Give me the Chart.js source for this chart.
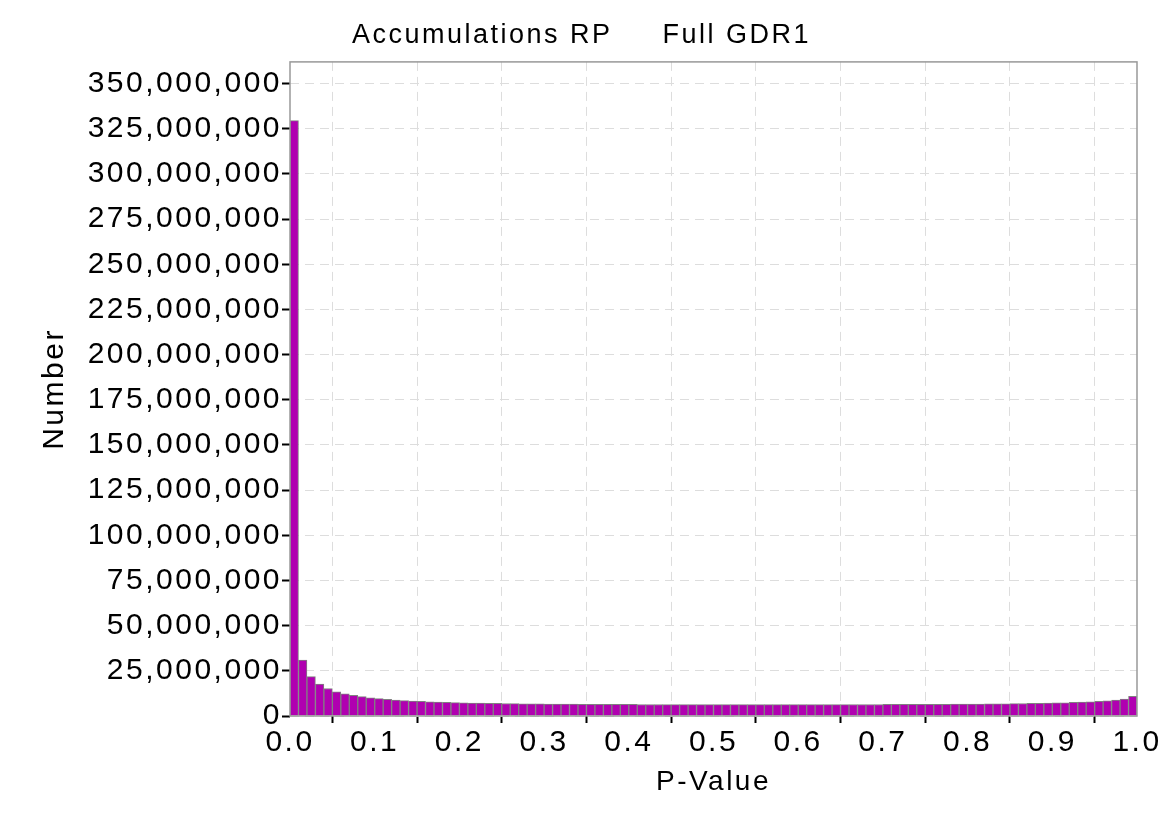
<!DOCTYPE html>
<html>
<head>
<meta charset="utf-8">
<script src="https://cdn.jsdelivr.net/npm/chart.js@4"></script>
<style>
  html, body { margin: 0; padding: 0; background: #fff; }
  #wrap { width: 1170px; height: 827px; position: relative; }
</style>
</head>
<body>
<div id="wrap"><canvas id="chart"></canvas></div>
<script>
// histogram of p-values, 100 bins of width 0.01 (counts in millions)
const binWidth = 0.01;
const countsMillions = [
    329.5, 31.0, 21.8, 17.6, 15.2, 13.4, 12.3, 11.4, 10.7, 10.1,
    9.6, 9.2, 8.8, 8.5, 8.3, 8.1, 7.9, 7.7, 7.6, 7.4,
    7.3, 7.2, 7.1, 7.0, 6.95, 6.9, 6.85, 6.8, 6.75, 6.7,
    6.65, 6.6, 6.6, 6.55, 6.5, 6.5, 6.45, 6.45, 6.4, 6.4,
    6.4, 6.35, 6.35, 6.35, 6.3, 6.3, 6.3, 6.3, 6.3, 6.3,
    6.3, 6.3, 6.3, 6.3, 6.3, 6.3, 6.3, 6.3, 6.3, 6.3,
    6.3, 6.3, 6.3, 6.3, 6.3, 6.3, 6.35, 6.35, 6.35, 6.35,
    6.4, 6.4, 6.4, 6.4, 6.45, 6.45, 6.5, 6.5, 6.55, 6.55,
    6.6, 6.65, 6.7, 6.75, 6.8, 6.85, 6.9, 7.0, 7.05, 7.15,
    7.25, 7.35, 7.5, 7.65, 7.85, 8.1, 8.4, 8.8, 9.4, 10.9
];
const yTicks = [0, 25e6, 50e6, 75e6, 100e6, 125e6, 150e6, 175e6,
                200e6, 225e6, 250e6, 275e6, 300e6, 325e6, 350e6];
const chartTitle = 'Accumulations RP     Full GDR1';
const xTitle = 'P-Value';
const yTitle = 'Number';
const yMax = 362e6;
const xStep = 0.1;

const FONT = "'Liberation Sans', Arial, Helvetica, sans-serif";
const SPACING = '2.5px';

const points = countsMillions.map((v, i) => ({ x: (i + 0.5) * binWidth, y: v * 1e6 }));

// the reference text is drawn with wide letter spacing
const spacing = {
    id: 'spacing',
    beforeLayout(chart) { chart.ctx.letterSpacing = SPACING; },
    beforeDraw(chart) { chart.ctx.letterSpacing = SPACING; }
};

// grey frame round the plot area
const frame = {
    id: 'frame',
    afterDraw(chart) {
        const { ctx, chartArea: a } = chart;
        ctx.save();
        ctx.strokeStyle = '#999999';
        ctx.lineWidth = 1.5;
        ctx.strokeRect(a.left, a.top, a.right - a.left, a.bottom - a.top);
        ctx.restore();
    }
};

new Chart(document.getElementById('chart'), {
    type: 'bar',
    data: {
        datasets: [{
            data: points,
            backgroundColor: '#b000b0',
            borderColor: '#808080',
            borderWidth: 1,
            barPercentage: 1.0,
            categoryPercentage: 1.0
        }]
    },
    options: {
        responsive: true,
        maintainAspectRatio: false,
        animation: false,
        layout: { padding: { top: 0, right: 33, bottom: 0, left: 26 } },
        plugins: {
            legend: { display: false },
            tooltip: { enabled: false },
            title: {
                display: true,
                text: chartTitle,
                color: '#000',
                font: { family: FONT, size: 27, weight: 'normal' },
                padding: { top: 19.5, bottom: 10 }
            }
        },
        scales: {
            x: {
                type: 'linear',
                min: 0, max: 1,
                offset: false,
                afterFit: s => { s.height = 111; },
                ticks: {
                    stepSize: xStep,
                    color: '#000',
                    padding: 2,
                    maxRotation: 0,
                    autoSkip: false,
                    font: { family: FONT, size: 30 },
                    callback: v => Number(v).toFixed(1)
                },
                grid: { color: '#dddddd', lineWidth: 1, tickColor: '#000', tickLength: 7, tickWidth: 2 },
                border: { display: false, dash: [9, 6] },
                title: {
                    display: true, text: xTitle, color: '#000',
                    font: { family: FONT, size: 28 },
                    padding: { top: 0, bottom: 28 }
                }
            },
            y: {
                min: 0, max: yMax,
                afterFit: s => { s.width = 264; },
                afterBuildTicks: s => { s.ticks = yTicks.map(v => ({ value: v })); },
                ticks: {
                    color: '#000',
                    padding: 0,
                    font: { family: FONT, size: 30 },
                    callback: v => Number(v).toLocaleString('en-US')
                },
                grid: { color: '#dddddd', lineWidth: 1, tickColor: '#000', tickLength: 8, tickWidth: 2 },
                border: { display: false, dash: [9, 6] },
                title: {
                    display: true, text: yTitle, color: '#000',
                    font: { family: FONT, size: 30 },
                    padding: { top: 10.6, bottom: 0 }
                }
            }
        }
    },
    plugins: [spacing, frame]
});
</script>
</body>
</html>
